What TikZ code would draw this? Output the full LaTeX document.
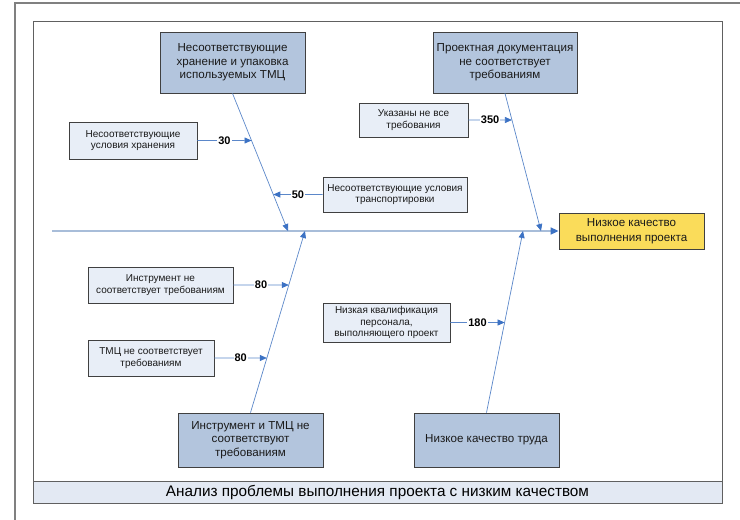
\documentclass[tikz,border=0pt]{standalone}
\usepackage{fontspec}
\setmainfont{Liberation Sans}
\usetikzlibrary{arrows.meta}
\definecolor{mainfill}{HTML}{B3C5DD}
\definecolor{subfill}{HTML}{E8EEF7}
\definecolor{bandfill}{HTML}{E3E9F3}
\definecolor{effectfill}{HTML}{FADC5A}
\definecolor{bonecol}{HTML}{5B87C9}
\definecolor{spinecol}{HTML}{A8BDD9}
\definecolor{tipcol}{HTML}{3C72C4}
\definecolor{edgecol}{HTML}{404040}
\definecolor{framecol}{HTML}{606060}
\definecolor{textcol}{HTML}{1A1A1A}
\begin{document}
\begin{tikzpicture}[x=1pt,y=-1pt,
  causebox/.style={draw=edgecol, line width=0.8pt, fill=mainfill, align=center,
    text=textcol, font=\fontsize{11.6}{13.5}\selectfont, inner sep=2pt},
  effectbox/.style={draw=edgecol, line width=0.8pt, fill=effectfill, align=center,
    text=textcol, font=\fontsize{11.6}{15}\selectfont, inner sep=2pt},
  subbox/.style={draw=edgecol, line width=0.7pt, fill=subfill, align=center,
    text=textcol, font=\fontsize{10}{11.8}\selectfont, inner sep=2pt},
  bone/.style={draw=bonecol, line width=0.7pt, -{Triangle[length=7pt,width=6pt,color=tipcol]}},
  spine/.style={draw=spinecol, line width=1.6pt, -{Triangle[length=8pt,width=7pt,color=tipcol]}},
  weight/.style={fill=white, font=\bfseries\fontsize{11}{13}\selectfont, inner sep=1pt},
  titletext/.style={font=\fontsize{15.3}{18}\selectfont}
]
\useasboundingbox (0,0) rectangle (740,520);
% frames
\draw[gray, line width=1.2pt] (15,520) -- (15,3) -- (740,3);
\draw[framecol, line width=0.9pt] (33,21) rectangle (722,503);
\draw[framecol, line width=0.9pt, fill=bandfill] (33,481) rectangle (722,503);
\node[titletext] (title) at (377.5,492) {Анализ проблемы выполнения проекта с низким качеством};

% main cause boxes and effect
\node[causebox, minimum width=145pt, minimum height=61pt] (c1) at (232.5,62.5)
  {Несоответствующие\\хранение и упаковка\\используемых ТМЦ};
\node[causebox, minimum width=144pt, minimum height=61pt] (c2) at (505,62.5)
  {Проектная документация\\не соответствует\\требованиям};
\node[causebox, minimum width=145pt, minimum height=54pt] (c3) at (250.5,440)
  {Инструмент и ТМЦ не\\соответствуют\\требованиям};
\node[causebox, minimum width=145pt, minimum height=54pt] (c4) at (486.5,440)
  {Низкое качество труда};
\node[effectbox, minimum width=145pt, minimum height=36pt] (eff) at (631.5,231)
  {Низкое качество\\выполнения проекта};

% spine
\coordinate (tail) at (52,231);
\draw[spine] (tail) -- (eff.west);

% joints on spine
\coordinate (j1) at (288,231);
\coordinate (j2) at (541,231);
\coordinate (j3) at (305,231);
\coordinate (j4) at (523,231);
\draw[bone] (c1.south) -- (j1);
\draw[bone] (c2.south) -- (j2);
\draw[bone] (c3.north) -- (j3);
\draw[bone] (c4.north) -- (j4);

% sub causes
\node[subbox, minimum width=128pt, minimum height=37pt] (s30) at (133,140.5)
  {Несоответствующие\\условия хранения};
\node[subbox, minimum width=109pt, minimum height=34pt] (s350) at (413.5,120)
  {Указаны не все\\требования};
\node[subbox, minimum width=144pt, minimum height=35pt] (s50) at (395,194.5)
  {Несоответствующие условия\\транспортировки};
\node[subbox, minimum width=145pt, minimum height=36pt] (s80a) at (160.5,285)
  {Инструмент не\\соответствует требованиям};
\node[subbox, minimum width=126pt, minimum height=36pt] (s80b) at (151,358)
  {ТМЦ не соответствует\\требованиям};
\node[subbox, minimum width=127pt, minimum height=39pt] (s180) at (386.5,322.5)
  {Низкая квалификация\\персонала,\\выполняющего проект};

\coordinate (p30) at (intersection cs: first line={(c1.south)--(j1)}, second line={(s30.east)--([xshift=10pt]s30.east)});
\coordinate (p50) at (intersection cs: first line={(c1.south)--(j1)}, second line={(s50.west)--([xshift=10pt]s50.west)});
\coordinate (p350) at (intersection cs: first line={(c2.south)--(j2)}, second line={(s350.east)--([xshift=10pt]s350.east)});
\coordinate (p80a) at (intersection cs: first line={(c3.north)--(j3)}, second line={(s80a.east)--([xshift=10pt]s80a.east)});
\coordinate (p80b) at (intersection cs: first line={(c3.north)--(j3)}, second line={(s80b.east)--([xshift=10pt]s80b.east)});
\coordinate (p180) at (intersection cs: first line={(c4.north)--(j4)}, second line={(s180.east)--([xshift=10pt]s180.east)});

\draw[bone] (s30.east) -- node[weight] (w30) {30} (p30);
\draw[bone] (s50.west) -- node[weight] (w50) {50} (p50);
\draw[bone] (s350.east) -- node[weight] (w350) {350} (p350);
\draw[bone] (s80a.east) -- node[weight] (w80a) {80} (p80a);
\draw[bone] (s80b.east) -- node[weight] (w80b) {80} (p80b);
\draw[bone] (s180.east) -- node[weight] (w180) {180} (p180);
\end{tikzpicture}
\end{document}
